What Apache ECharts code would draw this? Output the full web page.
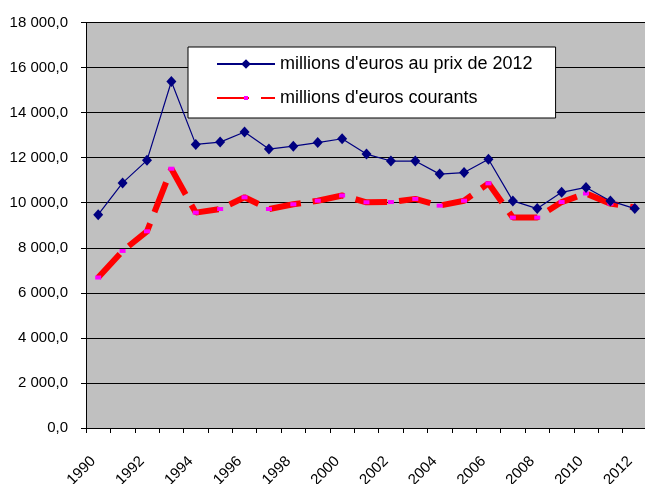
<!DOCTYPE html>
<html><head><meta charset="utf-8">
<script src="https://cdn.jsdelivr.net/npm/echarts@6/dist/echarts.min.js"></script>
<style>html,body{margin:0;padding:0;background:#fff}#c{width:645px;height:484px}</style>
</head><body><div id="c"></div>
<script>
const years = ['1990','1991','1992','1993','1994','1995','1996','1997','1998','1999','2000','2001','2002','2003','2004','2005','2006','2007','2008','2009','2010','2011','2012'];
const constantPrices = [9470, 10880, 11880, 15380, 12590, 12690, 13140, 12380, 12510, 12670, 12840, 12160, 11850, 11850, 11270, 11340, 11930, 10080, 9740, 10460, 10680, 10080, 9740];
const currentPrices = [6680, 7860, 8730, 11510, 9560, 9720, 10240, 9720, 9930, 10090, 10320, 10020, 10030, 10170, 9870, 10090, 10860, 9340, 9340, 10030, 10410, 9960, 9790];
const seriesNames = ["millions d'euros au prix de 2012", "millions d'euros courants"];
const yMin = 0, yMax = 18000, yStep = 2000;

const FONT = "'Liberation Sans', Arial, sans-serif";
function fmt(v) {
  let parts = (Math.round(v * 10) / 10).toFixed(1).split('.');
  let i = parts[0].replace(/\B(?=(\d{3})+(?!\d))/g, ' ');
  return i + ',' + parts[1];
}
const chart = echarts.init(document.getElementById('c'), null, {renderer: 'canvas'});
chart.setOption({
  animation: false,
  backgroundColor: '#ffffff',
  grid: {left: 86, top: 22.5, width: 561, height: 405.5, show: true, backgroundColor: '#C0C0C0', borderWidth: 0,
         containLabel: false, outerBoundsMode: 'none'},
  legend: [
    {data: [seriesNames[0]], left: 188, top: 47, orient: 'vertical', backgroundColor: '#fff', borderColor: '#000', borderWidth: 1,
     padding: [8, 23, 45, 28], itemWidth: 58, itemHeight: 12, selectedMode: false,
     textStyle: {fontSize: 18, color: '#000', fontFamily: FONT}},
    {data: [seriesNames[1]], left: 189, top: 89, orient: 'vertical', padding: [0, 0, 0, 27], itemWidth: 58, itemHeight: 5, selectedMode: false,
     textStyle: {fontSize: 18, color: '#000', fontFamily: FONT}}
  ],
  xAxis: {
    type: 'category', data: years, boundaryGap: true,
    axisLine: {show: true, lineStyle: {color: '#000', width: 1}},
    axisTick: {show: true, interval: 0, length: 5, alignWithLabel: false, lineStyle: {color: '#000'}},
    axisLabel: {interval: 1, rotate: 45, margin: 26, padding: [0, 7, 0, 0], fontSize: 15, color: '#000', fontFamily: FONT},
    splitLine: {show: false}
  },
  yAxis: {
    type: 'value', min: yMin, max: yMax, interval: yStep,
    axisLine: {show: true, lineStyle: {color: '#000', width: 1}},
    axisTick: {show: true, length: 5, lineStyle: {color: '#000'}},
    axisLabel: {margin: 18, fontSize: 15, color: '#000', fontFamily: FONT, formatter: fmt},
    splitLine: {show: true, lineStyle: {color: '#000', width: 1}}
  },
  series: [
    {name: seriesNames[1], type: 'line', data: currentPrices, symbol: 'rect', symbolSize: [6, 4], showSymbol: true,
     itemStyle: {color: '#FF00FF'}, lineStyle: {color: '#FF0000', width: 6, type: [32, 12]}, z: 2},
    {name: seriesNames[0], type: 'line', data: constantPrices, symbol: 'diamond', symbolSize: [10, 11], showSymbol: true,
     itemStyle: {color: '#000080'}, lineStyle: {color: '#000080', width: 1.2}, z: 3}
  ]
});
</script></body></html>
